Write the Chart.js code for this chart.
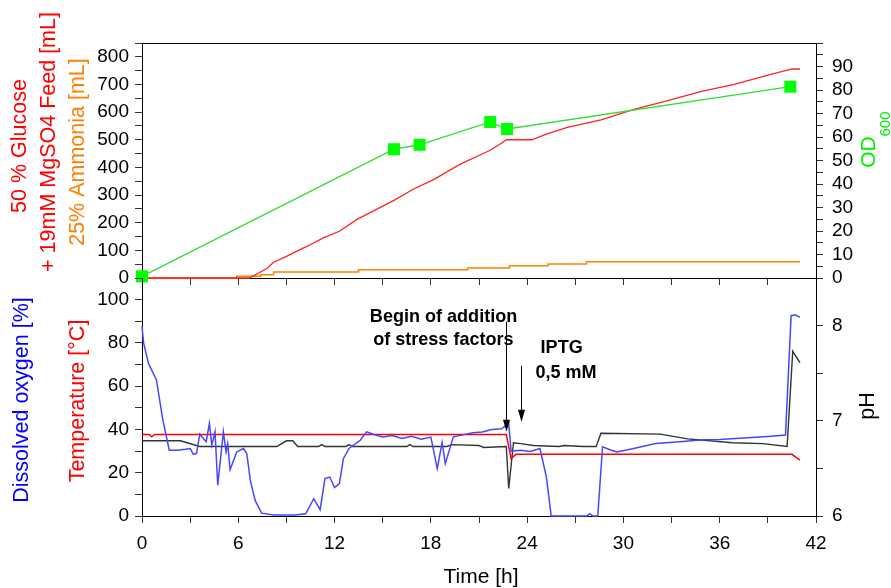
<!DOCTYPE html>
<html>
<head>
<meta charset="utf-8">
<title>Fed-batch cultivation</title>
<script src="https://cdn.jsdelivr.net/npm/chart.js@4.4.0/dist/chart.umd.min.js"></script>
<style>
  html, body { margin: 0; padding: 0; background: #fff; }
  #wrap { position: relative; width: 891px; height: 588px; overflow: hidden; }
  #wrap canvas { position: absolute; left: 0; }
  #feedChart { top: 0; }
  #doChart { top: 270px; }
</style>
</head>
<body>
<div id="wrap">
  <canvas id="feedChart" width="891" height="300"></canvas>
  <canvas id="doChart" width="891" height="318"></canvas>
</div>
<script>
// upper panel: cumulative feeds [mL] and OD600
const feedTime = [0, 6.7, 7.8, 8.2, 9.0, 9.65, 10.3, 11.3, 12.3, 13.4, 14.4, 15.7, 16.9, 18.2, 19.8, 21.7, 22.3, 22.7, 24.3, 25.2, 26.5, 28.6, 30.6, 32.7, 34.8, 36.9, 38.9, 40.5, 41.0];
const glucoseFeed = [0, 0, 35, 57, 78, 97, 115, 145, 169, 212, 242, 281, 321, 357, 411, 462, 484, 500, 500, 520, 545, 572, 609, 641, 674, 700, 732, 756, 756];

const ammoniaTime = [0, 5.9, 7.4, 8.2, 13.5, 20.3, 22.9, 25.3, 27.7, 41.0];
const ammoniaFeed = [0, 6, 12, 22, 30, 36, 44, 51, 59, 59];

const odTime = [0, 15.7, 17.3, 21.7, 22.75, 40.4];
const od600 = [0.7, 54.8, 56.7, 66.4, 63.4, 81.4];

// lower panel: dissolved oxygen [%], temperature [°C], pH
const doTime = [0, 0.1, 0.4, 0.9, 1.3, 1.7, 2.2, 2.7, 3.0, 3.2,
  3.4, 3.6, 4.0, 4.2, 4.35, 4.55, 4.72, 5.07, 5.24, 5.34,
  5.49, 5.9, 6.32, 6.53, 6.75, 7.05, 7.45, 8.2, 9.5, 10.2,
  10.7, 11.1, 11.4, 11.7, 12.0, 12.3, 12.55, 12.9, 13.6, 14.0,
  14.4, 15.0, 15.6, 16.2, 16.8, 17.4, 18.0, 18.4, 18.7, 18.9,
  19.4, 20.0, 20.6, 21.2, 21.8, 22.4, 22.85, 23.0, 23.6, 24.2,
  24.8, 25.2, 25.5, 27.7, 27.9, 28.1, 28.4, 28.7, 29.2, 29.6,
  30.5, 32.0, 33.5, 35.0, 36.0, 37.5, 39.0, 40.1, 40.45, 40.7,
  41.0];
const dissolvedO2 = [87.6, 80, 70.6, 62.9, 44.3, 30.4, 30.4, 30.8, 31.2, 28.5,
  28.9, 37.8, 34.3, 42.8, 32.7, 38.9, 14.2, 38.9, 29.6, 33.5,
  21.4, 29.6, 31.2, 28.9, 16.5, 7.2, 1.3, 0.5, 0.5, 1,
  8, 2.9, 17.3, 18, 13.1, 15, 26.5, 31.2, 35, 38.9,
  37.8, 36.5, 37.2, 35.8, 36.8, 35.5, 36.5, 21.9, 34, 24.2,
  36.6, 37.5, 38.5, 38.8, 40, 40.3, 42.8, 30, 30.4, 29.8,
  31.2, 18, 0, 0, 1.1, 0, 0, 32, 30.5, 29.6,
  31, 33.5, 34.3, 35.2, 35.4, 36, 36.8, 37.4, 92.6, 93,
  91.8];

const tempTime = [0, 0.45, 0.6, 0.8, 22.7, 23.0, 23.3, 40.5, 41.0];
const temperature = [37.7, 37.7, 36.6, 37.7, 37.7, 26.5, 28.5, 28.5, 25.8];

const phTime = [0, 2.4, 3.6, 8.4, 9.0, 9.4, 9.7, 11.0, 11.2, 11.4, 12.7, 12.9, 13.1, 16.5, 16.7, 16.9, 19.0, 19.3, 21.0, 21.3,
  22.7, 22.85, 23.15, 23.6, 24.4, 26.0, 26.3, 27.5, 28.3, 28.6, 32.3, 34.0, 36.8, 38.7, 40.2, 40.55, 41.0];
const ph = [6.79, 6.79, 6.73, 6.73, 6.79, 6.79, 6.73, 6.73, 6.75, 6.73, 6.73, 6.75, 6.73, 6.73, 6.75, 6.73, 6.73, 6.75, 6.74, 6.72,
  6.73, 6.29, 6.77, 6.76, 6.74, 6.73, 6.74, 6.73, 6.73, 6.87, 6.86, 6.81, 6.77, 6.76, 6.73, 7.73, 7.61];

const FONT = '"Liberation Sans", Arial, sans-serif';
Chart.defaults.font.family = FONT;
Chart.defaults.color = '#000';

const pts = (xs, ys) => xs.map((x, i) => ({ x, y: ys[i] }));

// one axis with outward tick marks, labels only where labelFn says so
const axis = (position, min, max, step, labelFn, fit) => ({
  type: 'linear',
  position,
  min,
  max,
  grid: { drawOnChartArea: false, drawTicks: true, tickLength: 7, tickColor: '#333', color: '#333' },
  border: { display: true, color: '#000', width: 1 },
  ticks: {
    stepSize: step,
    includeBounds: false,
    autoSkip: false,
    maxRotation: 0,
    padding: position === 'bottom' ? 9 : (position === 'left' ? 6 : 9),
    font: { size: 19 },
    color: '#000',
    callback: labelFn
  },
  afterFit: fit
});

const fixWidth = w => s => { s.width = w; s.paddingTop = 0; s.paddingBottom = 0; };
const fixHeight = h => s => { s.height = h; s.paddingLeft = 0; s.paddingRight = 0; };

function sideLabel(ctx, text, x, y, color, size) {
  ctx.save();
  ctx.translate(x, y);
  ctx.rotate(-Math.PI / 2);
  ctx.font = `${size}px ${FONT}`;
  ctx.fillStyle = color;
  ctx.textAlign = 'center';
  ctx.textBaseline = 'middle';
  ctx.fillText(text, 0, 0);
  ctx.restore();
}

function boldNote(ctx, text, x, baseline) {
  ctx.save();
  ctx.translate(x, baseline);
  ctx.scale(0.95, 1);
  ctx.font = `bold 19px ${FONT}`;
  ctx.fillStyle = '#000';
  ctx.textAlign = 'center';
  ctx.textBaseline = 'alphabetic';
  ctx.fillText(text, 0, 0);
  ctx.restore();
}

function downArrow(ctx, x, yFrom, yTip) {
  const cx = Math.round(x) + 0.5;
  ctx.save();
  ctx.strokeStyle = '#000';
  ctx.fillStyle = '#000';
  ctx.lineWidth = 1;
  ctx.beginPath();
  ctx.moveTo(cx, yFrom);
  ctx.lineTo(cx, yTip - 10);
  ctx.stroke();
  ctx.beginPath();
  ctx.moveTo(cx - 3.5, yTip - 12);
  ctx.lineTo(cx + 3.5, yTip - 12);
  ctx.lineTo(cx, yTip);
  ctx.closePath();
  ctx.fill();
  ctx.restore();
}

const baseOptions = {
  responsive: false,
  animation: false,
  events: [],
  elements: { line: { tension: 0 } },
  plugins: { legend: { display: false }, tooltip: { enabled: false } }
};

// top frame line plus axis titles of the upper panel
const feedDecor = {
  id: 'feedDecor',
  afterDraw(chart) {
    const { ctx, chartArea: a } = chart;
    ctx.save();
    ctx.strokeStyle = '#000';
    ctx.lineWidth = 1;
    ctx.beginPath();
    ctx.moveTo(a.left, Math.round(a.top) + 0.5);
    ctx.lineTo(a.right, Math.round(a.top) + 0.5);
    ctx.stroke();
    ctx.restore();

    sideLabel(ctx, '50 % Glucose', 20, 146, '#ff0000', 21.5);
    sideLabel(ctx, '+ 19mM MgSO4 Feed [mL]', 49, 142, '#ff0000', 21.5);
    sideLabel(ctx, '25% Ammonia [mL]', 78, 152, '#ff8000', 21.5);
    sideLabel(ctx, 'OD', 869, 152, '#00ee00', 21);
    sideLabel(ctx, '600', 886, 124, '#00ee00', 15);
  }
};

new Chart(document.getElementById('feedChart'), {
  type: 'line',
  data: {
    datasets: [
      {
        label: 'OD600',
        data: pts(odTime, od600),
        yAxisID: 'yOD',
        borderColor: '#33dd33',
        borderWidth: 1.3,
        pointStyle: 'rect',
        pointRadius: 8.5,
        pointBackgroundColor: '#00ff00',
        pointBorderWidth: 0,
        clip: false
      },
      {
        label: '50 % Glucose + 19mM MgSO4 Feed',
        data: pts(feedTime, glucoseFeed),
        yAxisID: 'yFeed',
        borderColor: '#ff2222',
        borderWidth: 1.3,
        pointRadius: 0,
        clip: 4
      },
      {
        label: '25% Ammonia',
        data: pts(ammoniaTime, ammoniaFeed),
        yAxisID: 'yFeed',
        borderColor: '#ff8000',
        borderWidth: 1.5,
        pointRadius: 0,
        stepped: true,
        clip: 4
      }
    ]
  },
  options: {
    ...baseOptions,
    layout: { padding: { top: 43, left: 0, right: 0, bottom: 0 } },
    scales: {
      x: axis('bottom', 0, 42, 3, () => '', fixHeight(22)),
      yFeed: axis('left', 0, 850, 50, v => (v % 100 === 0 ? v : ''), fixWidth(142)),
      yOD: axis('right', 0, 100, 5, v => (v % 10 === 0 && v < 100 ? v : ''), fixWidth(75))
    }
  },
  plugins: [feedDecor]
});

// axis titles and the two event markers of the lower panel
const doDecor = {
  id: 'doDecor',
  afterDraw(chart) {
    const { ctx, scales: { x, yDO } } = chart;
    const px = t => x.getPixelForValue(t);
    const py = v => yDO.getPixelForValue(v);

    sideLabel(ctx, 'Dissolved oxygen [%]', 22, 130, '#0000ff', 21.5);
    sideLabel(ctx, 'Temperature [°C]', 78, 131, '#ff0000', 21.5);
    sideLabel(ctx, 'pH', 868, 136, '#000', 21.5);

    ctx.save();
    ctx.font = `21px ${FONT}`;
    ctx.fillStyle = '#000';
    ctx.textAlign = 'center';
    ctx.textBaseline = 'middle';
    ctx.fillText('Time [h]', 481, 307);
    ctx.restore();

    boldNote(ctx, 'Begin of addition', px(18.79), py(89.45));
    boldNote(ctx, 'of stress factors', px(18.78), py(79.1));
    boldNote(ctx, 'IPTG', px(26.15), py(75.4));
    boldNote(ctx, '0,5 mM', px(26.42), py(64.0));

    downArrow(ctx, px(22.68), py(89.8), py(38.9));
    downArrow(ctx, px(23.62), py(69.4), py(43.6));
  }
};

new Chart(document.getElementById('doChart'), {
  type: 'line',
  data: {
    datasets: [
      {
        label: 'Dissolved oxygen',
        data: pts(doTime, dissolvedO2),
        yAxisID: 'yDO',
        borderColor: '#4646ff',
        borderWidth: 1.5,
        pointRadius: 0,
        clip: 4
      },
      {
        label: 'Temperature',
        data: pts(tempTime, temperature),
        yAxisID: 'yDO',
        borderColor: '#ff0000',
        borderWidth: 1.5,
        pointRadius: 0,
        clip: 4
      },
      {
        label: 'pH',
        data: pts(phTime, ph),
        yAxisID: 'yPH',
        borderColor: '#333333',
        borderWidth: 1.4,
        pointRadius: 0,
        clip: 4
      }
    ]
  },
  options: {
    ...baseOptions,
    layout: { padding: { top: 8, left: 0, right: 0, bottom: 0 } },
    scales: {
      x: axis('bottom', 0, 42, 3, v => (v % 6 === 0 ? v : ''), fixHeight(72)),
      yDO: axis('left', 0, 110, 10, v => (v % 20 === 0 && v <= 100 ? v : ''), fixWidth(142)),
      yPH: axis('right', 6, 8.5, 0.5, v => (Number.isInteger(v) ? v : ''), fixWidth(75))
    }
  },
  plugins: [doDecor]
});
</script>
</body>
</html>
